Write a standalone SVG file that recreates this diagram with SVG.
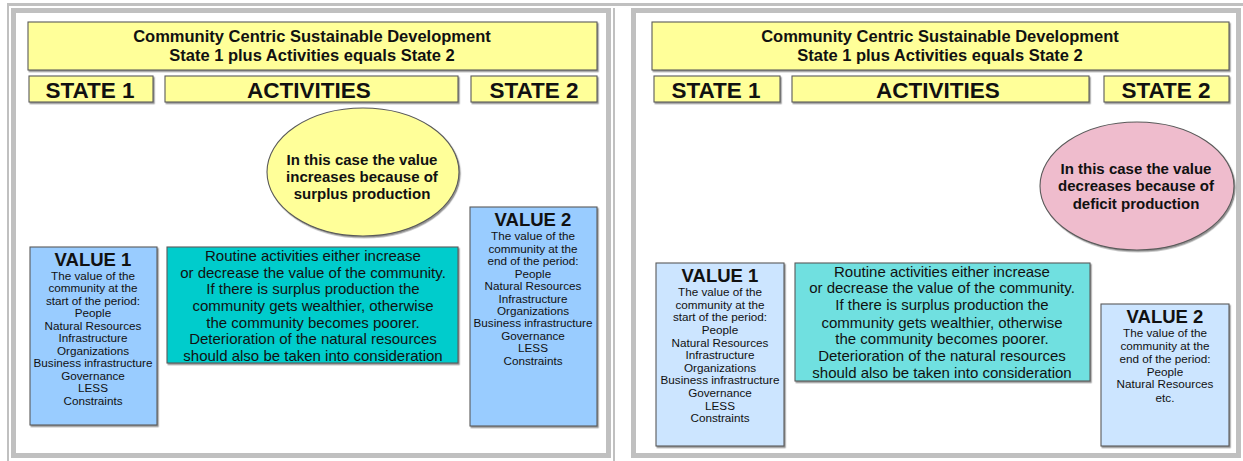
<svg xmlns="http://www.w3.org/2000/svg" width="1243" height="461" viewBox="0 0 1243 461">
<defs>
<filter id="sh" x="-5%" y="-5%" width="110%" height="115%"><feDropShadow dx="1.2" dy="1.5" stdDeviation="0.6" flood-color="#777" flood-opacity="0.8"/></filter>
</defs>
<style>
.frame{fill:none;stroke:#c0c0c0}
.box{stroke:#5a5a5a;stroke-width:1.1;filter:url(#sh)}
.yel{fill:#ffff99}
.t{font-family:"Liberation Sans",Arial,sans-serif;fill:#111;text-anchor:middle}
.title{font-size:16.5px;font-weight:bold}
.state{font-size:22.5px;font-weight:bold}
.ell{font-size:15px;font-weight:bold}
.act{font-size:15px}
.vh{font-size:18.5px;font-weight:bold}
.v{font-size:11.7px}
</style>
<rect width="1243" height="461" fill="#fff"/>
<g id="frames">
<rect x="7" y="3" width="1236" height="3" fill="#c0c0c0"/>
<rect x="7" y="3" width="2" height="458" fill="#c0c0c0"/>
<rect class="frame" x="13.5" y="10.5" width="595" height="445" stroke-width="5"/>
<rect x="613" y="8" width="2" height="453" fill="#c0c0c0"/>
<rect class="frame" x="633.5" y="10.5" width="605" height="445" stroke-width="5"/>
</g>

<g id="left-title"><rect class="box yel" x="28" y="22" width="569" height="48"/>
<text class="t title" x="312" y="42">Community Centric Sustainable Development</text>
<text class="t title" x="312" y="61">State 1 plus Activities equals State 2</text></g>
<g id="left-state1"><rect class="box yel" x="29" y="76" width="124" height="26"/><text class="t state" x="90" y="98">STATE 1</text></g>
<g id="left-activities"><rect class="box yel" x="165" y="76" width="293" height="26"/><text class="t state" x="309" y="98">ACTIVITIES</text></g>
<g id="left-state2"><rect class="box yel" x="471" y="76" width="126" height="26"/><text class="t state" x="534" y="98">STATE 2</text></g>
<g id="left-ellipse"><ellipse class="box" cx="363" cy="172" rx="96" ry="64" fill="#ffff99"/>
<text class="t ell" x="362" y="165">In this case the value</text>
<text class="t ell" x="362" y="182">increases because of</text>
<text class="t ell" x="362" y="199">surplus production</text></g>
<g id="left-value1"><rect class="box" x="30" y="247" width="127" height="178" fill="#99ccff"/>
<text class="t vh" x="93" y="265.5">VALUE 1</text>
<text class="t v" x="93" y="279.5">The value of the</text>
<text class="t v" x="93" y="292">community at the</text>
<text class="t v" x="93" y="304.5">start of the period:</text>
<text class="t v" x="93" y="317">People</text>
<text class="t v" x="93" y="329.5">Natural Resources</text>
<text class="t v" x="93" y="342">Infrastructure</text>
<text class="t v" x="93" y="354.5">Organizations</text>
<text class="t v" x="93" y="367">Business infrastructure</text>
<text class="t v" x="93" y="379.5">Governance</text>
<text class="t v" x="93" y="392">LESS</text>
<text class="t v" x="93" y="404.5">Constraints</text></g>
<g id="left-activity-box"><rect class="box" x="167" y="247" width="291" height="116" fill="#00cccc"/>
<text class="t act" x="313" y="260.5">Routine activities either increase</text>
<text class="t act" x="313" y="277.5">or decrease the value of the community.</text>
<text class="t act" x="313" y="294">If there is surplus production the</text>
<text class="t act" x="313" y="310.5">community gets wealthier, otherwise</text>
<text class="t act" x="313" y="327.5">the community becomes poorer.</text>
<text class="t act" x="313" y="344">Deterioration of the natural resources</text>
<text class="t act" x="313" y="360.5">should also be taken into consideration</text></g>
<g id="left-value2"><rect class="box" x="470" y="207" width="127" height="219" fill="#99ccff"/>
<text class="t vh" x="533" y="225.5">VALUE 2</text>
<text class="t v" x="533" y="240">The value of the</text>
<text class="t v" x="533" y="252.5">community at the</text>
<text class="t v" x="533" y="265">end of the period:</text>
<text class="t v" x="533" y="277.5">People</text>
<text class="t v" x="533" y="290">Natural Resources</text>
<text class="t v" x="533" y="302.5">Infrastructure</text>
<text class="t v" x="533" y="315">Organizations</text>
<text class="t v" x="533" y="327">Business infrastructure</text>
<text class="t v" x="533" y="339.5">Governance</text>
<text class="t v" x="533" y="352">LESS</text>
<text class="t v" x="533" y="365">Constraints</text></g>

<g id="right-title"><rect class="box yel" x="652" y="22" width="577" height="48"/>
<text class="t title" x="940" y="42">Community Centric Sustainable Development</text>
<text class="t title" x="940" y="61">State 1 plus Activities equals State 2</text></g>
<g id="right-state1"><rect class="box yel" x="654" y="76" width="126" height="26"/><text class="t state" x="716" y="98">STATE 1</text></g>
<g id="right-activities"><rect class="box yel" x="792" y="76" width="297" height="26"/><text class="t state" x="938" y="98">ACTIVITIES</text></g>
<g id="right-state2"><rect class="box yel" x="1104" y="76" width="125" height="26"/><text class="t state" x="1166" y="98">STATE 2</text></g>
<g id="right-ellipse"><ellipse class="box" cx="1137" cy="186" rx="97" ry="64" fill="#efbccd"/>
<text class="t ell" x="1136" y="174">In this case the value</text>
<text class="t ell" x="1136" y="191">decreases because of</text>
<text class="t ell" x="1136" y="209">deficit production</text></g>
<g id="right-value1"><rect class="box" x="656" y="263" width="128" height="183" fill="#cce5ff"/>
<text class="t vh" x="720" y="281.5">VALUE 1</text>
<text class="t v" x="720" y="296">The value of the</text>
<text class="t v" x="720" y="308.5">community at the</text>
<text class="t v" x="720" y="321">start of the period:</text>
<text class="t v" x="720" y="334">People</text>
<text class="t v" x="720" y="346.5">Natural Resources</text>
<text class="t v" x="720" y="359">Infrastructure</text>
<text class="t v" x="720" y="372">Organizations</text>
<text class="t v" x="720" y="384">Business infrastructure</text>
<text class="t v" x="720" y="397">Governance</text>
<text class="t v" x="720" y="409.5">LESS</text>
<text class="t v" x="720" y="422">Constraints</text></g>
<g id="right-activity-box"><rect class="box" x="795" y="263" width="295" height="118" fill="#70e0e0"/>
<text class="t act" x="942" y="276.5">Routine activities either increase</text>
<text class="t act" x="942" y="293">or decrease the value of the community.</text>
<text class="t act" x="942" y="310">If there is surplus production the</text>
<text class="t act" x="942" y="327.5">community gets wealthier, otherwise</text>
<text class="t act" x="942" y="344">the community becomes poorer.</text>
<text class="t act" x="942" y="360.5">Deterioration of the natural resources</text>
<text class="t act" x="942" y="377.5">should also be taken into consideration</text></g>
<g id="right-value2"><rect class="box" x="1101" y="304" width="128" height="142" fill="#cce5ff"/>
<text class="t vh" x="1165" y="322.5">VALUE 2</text>
<text class="t v" x="1165" y="337">The value of the</text>
<text class="t v" x="1165" y="350">community at the</text>
<text class="t v" x="1165" y="363">end of the period:</text>
<text class="t v" x="1165" y="375.5">People</text>
<text class="t v" x="1165" y="388">Natural Resources</text>
<text class="t v" x="1165" y="401.5">etc.</text></g>
<g id="connectors"></g>
</svg>
